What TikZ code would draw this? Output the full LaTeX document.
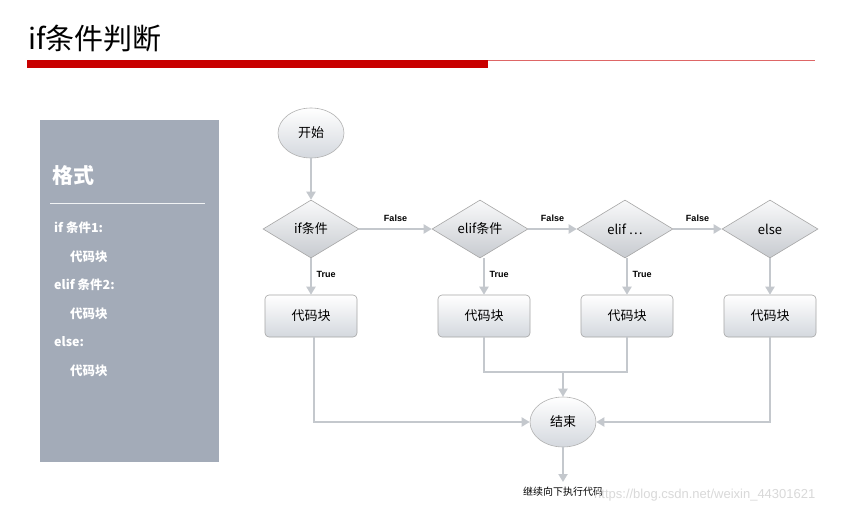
\documentclass[tikz,border=0pt]{standalone}
\usepackage{fontspec}
\setmainfont{Liberation Sans}
\newfontfamily\cjk{Noto Sans CJK SC}
\usetikzlibrary{shapes.geometric,arrows.meta}
\definecolor{panel}{HTML}{A3ABB8}
\definecolor{conn}{HTML}{C4C8CD}
\definecolor{shp}{HTML}{D4D8DE}
\definecolor{redbar}{HTML}{C80000}
\begin{document}
\begin{tikzpicture}[x=1pt,y=-1pt,
  every node/.style={font=\cjk},
  oval/.style={ellipse,draw=gray!60,line width=0.6pt,top color=white,bottom color=shp,minimum width=66pt,minimum height=50pt,inner sep=0pt,font=\cjk\fontsize{13}{13}\selectfont},
  dia/.style={diamond,aspect=1.65,draw=gray!70,line width=0.6pt,top color=white!85!shp,bottom color=shp!85!gray,minimum width=96pt,minimum height=58pt,inner sep=0pt,font=\cjk\fontsize{13}{13}\selectfont},
  codebox/.style={rectangle,rounded corners=4pt,draw=gray!70,line width=0.6pt,top color=white,bottom color=shp,minimum width=92pt,minimum height=42pt,inner sep=0pt,font=\cjk\fontsize{13}{13}\selectfont},
  con/.style={draw=conn,line width=2.4pt,-{Triangle[length=8pt,width=9pt]}},
  lin/.style={draw=conn,line width=2.4pt},
  lbl/.style={font=\bfseries\fontsize{9}{9}\selectfont},
  pt/.style={font=\cjk\bfseries\fontsize{12.5}{14}\selectfont,text=white,anchor=west,inner sep=0pt}]
\useasboundingbox (0,0) rectangle (847,514);
\fill[white] (0,0) rectangle (847,514);
% title
\node[anchor=west,inner sep=0pt,font=\cjk\fontsize{29}{30}\selectfont] (title) at (28,39) {if条件判断};
\fill[redbar] (27,60) rectangle (488,68);
\draw[redbar!60,line width=0.6pt] (488,60.5) -- (815,60.5);
% panel
\fill[panel] (40,120) rectangle (219,462);
\node[anchor=west,inner sep=0pt,font=\cjk\bfseries\fontsize{21}{22}\selectfont,text=white] (fmt) at (52,175) {格式};
\draw[white!85!panel,line width=0.8pt] (50,203) -- (205,203);
\node[pt] (p1) at (54,228) {if 条件1:};
\node[pt] (p2) at (70,257) {代码块};
\node[pt] (p3) at (54,285) {elif 条件2:};
\node[pt] (p4) at (70,314) {代码块};
\node[pt] (p5) at (54,342) {else:};
\node[pt] (p6) at (70,371) {代码块};
% flow
\node[oval] (start) at (311,133) {开始};
\node[dia] (d1) at (311,229) {if条件};
\node[dia] (d2) at (480,229) {elif条件};
\node[dia] (d3) at (625,229) {elif …};
\node[dia] (d4) at (770,229) {else};
\node[codebox] (b1) at (311,316) {代码块};
\node[codebox] (b2) at (484,316) {代码块};
\node[codebox] (b3) at (627,316) {代码块};
\node[codebox] (b4) at (770,316) {代码块};
\node[oval] (end) at (563,422) {结束};
\coordinate (j) at (563,372);
\coordinate (out) at (563,482);
\node[inner sep=0pt,font=\cjk\fontsize{10}{10}\selectfont] (cont) at (563,492) {继续向下执行代码};
\node[anchor=west,inner sep=0pt,text=gray!30,font=\fontsize{13}{13}\selectfont] (wm) at (594,495) {https://blog.csdn.net/weixin\_44301621};
\draw[con] (start) -- (d1);
\draw[con] (d1) -- node[lbl,above=3pt]{False} (d2);
\draw[con] (d2) -- node[lbl,above=3pt]{False} (d3);
\draw[con] (d3) -- node[lbl,above=3pt]{False} (d4);
\draw[con] (d1) -- node[lbl,right=1pt,pos=0.45]{True} (b1);
\draw[con] (d2.south -| b2) -- node[lbl,right=1pt,pos=0.45]{True} (b2);
\draw[con] (d3.south -| b3) -- node[lbl,right=1pt,pos=0.45]{True} (b3);
\draw[con] (d4) -- (b4);
\draw[con] (b1.south -| 314,0) |- (end.west);
\draw[con] (b4.south) |- (end.east);
\draw[lin] (b2.south) |- (j) -| (b3.south);
\draw[con] (j) -- (end.north);
\draw[con] (end.south) -- (out);
\end{tikzpicture}
\end{document}
